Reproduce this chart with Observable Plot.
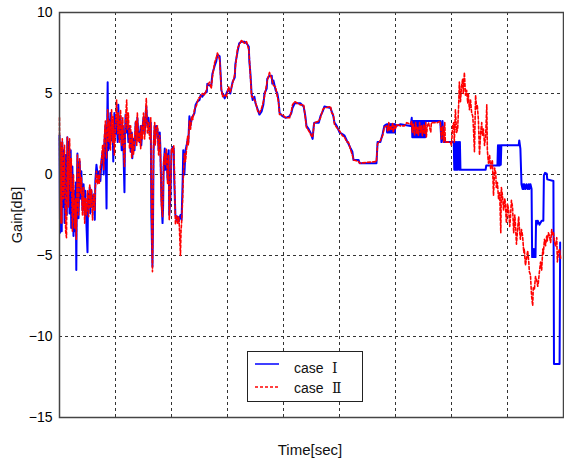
<!DOCTYPE html>
<html>
<head>
<meta charset="utf-8">
<script src="https://cdn.jsdelivr.net/npm/d3@7"></script>
<script src="https://cdn.jsdelivr.net/npm/@observablehq/plot@0.6"></script>
<style>
  html, body { margin: 0; padding: 0; background: #fff; }
  svg { display: block; }
</style>
</head>
<body>
<div id="chart"></div>
<script>
// ---- data (time in s, gain in dB) ----
const yTicks = [-15, -10, -5, 0, 5, 10];
const xGrid = [1, 2, 3, 4, 5, 6, 7, 8];
const yGrid = [-10, -5, 0, 5];
const legendLabels = ["case", "case"];
const legendNumerals = ["Ⅰ", "Ⅱ"];

// case I
const timeA = [
  0,0.01,0.02,0.04,0.05,0.07,0.08,0.09,0.11,0.13,0.14,0.15,0.16,0.18,0.2,0.21,0.23,0.25,0.26,0.27,
  0.29,0.3,0.31,0.32,0.34,0.36,0.38,0.39,0.41,0.43,0.45,0.46,0.48,0.5,0.51,0.52,0.54,0.55,0.57,0.59,
  0.61,0.63,0.64,0.66,0.68,0.7,0.71,0.73,0.75,0.77,0.79,0.8,0.82,0.84,0.85,0.86,0.87,0.88,0.89,0.91,
  0.93,0.95,0.96,0.98,1.0,
  1.02,1.04,1.05,1.07,1.09,1.11,1.13,1.14,1.16,1.17,1.18,1.2,1.21,1.23,1.25,1.27,1.29,1.3,1.32,1.34,
  1.36,1.38,1.39,1.41,1.43,1.45,1.46,1.48,1.5,1.52,1.54,1.55,1.57,1.59,1.61,1.63,1.64,1.66,1.67,1.68,
  1.7,1.71,1.73,1.75,1.77,1.79,1.8,1.82,1.84,1.85,1.86,1.88,1.89,1.91,1.93,1.95,1.96,1.98,2.0,2.02,
  2.04,2.05,2.07,2.09,2.11,2.13,2.14,2.16,2.18,2.2,2.21,2.23,2.25,
  2.27,2.29,2.3,2.32,2.34,2.36,2.38,2.41,2.43,2.46,2.5,2.52,2.55,2.59,2.63,2.64,2.68,2.71,2.73,2.77,
  2.8,2.82,2.86,2.88,2.89,2.91,2.95,2.98,3.02,3.05,3.09,3.13,3.14,3.18,3.21,3.25,3.3,3.34,3.38,3.39,
  3.41,3.43,3.45,3.48,3.5,3.54,3.57,3.61,3.64,3.66,3.7,3.71,3.75,3.79,3.8,3.82,3.86,3.89,3.91,3.93,
  3.98,4.04,4.11,4.14,4.16,4.2,4.3,4.36,4.39,4.41,4.45,4.48,4.52,4.54,4.55,4.63,4.66,4.7,4.73,4.84,
  4.86,4.89,4.91,4.95,5.0,5.05,5.09,5.13,5.16,5.2,5.23,5.25,5.34,5.36,5.66,5.68,5.73,5.77,5.8,5.84,
  5.85,5.855,5.86,5.865,5.87,5.875,5.88,5.885,5.89,5.895,5.9,5.905,5.91,5.915,5.92,5.925,5.93,5.935,5.94,5.945,
  5.95,5.955,5.96,5.965,5.97,5.975,5.98,5.985,5.99,5.995,
  6.02,6.09,6.27,6.29,
  6.3,6.305,6.31,6.315,6.32,6.325,6.33,6.335,6.34,6.345,6.35,6.355,6.36,6.365,6.37,6.375,6.38,6.385,6.39,6.395,
  6.4,6.405,6.41,6.415,6.42,6.425,6.43,6.435,6.44,6.445,6.45,6.455,6.46,6.465,6.47,6.475,6.48,6.485,6.49,6.495,
  6.5,6.505,6.51,6.515,6.52,6.525,6.53,6.535,
  6.54,6.8,6.82,6.84,6.86,7.04,7.05,7.06,7.07,7.08,7.09,7.1,7.11,7.13,
  7.14,7.15,7.16,7.61,7.62,7.82,7.83,7.84,7.85,7.86,7.87,7.88,7.89,8.2,8.21,8.23,8.25,8.27,8.28,8.29,
  8.3,8.32,8.34,8.36,8.38,8.39,8.41,8.43,8.44,8.45,8.46,8.47,8.48,8.49,8.5,8.51,8.52,8.54,8.57,8.61,
  8.64,8.65,8.67,8.7,8.71,8.82,8.83,8.93,8.94
];
const gainA = [
  2.4,-3.6,1.8,-3.5,2.0,-2.0,1.5,-3.0,1.2,-2.5,2.3,-1.0,2.0,-2.4,1.5,-3.3,0.5,-3.8,-1.0,-3.5,
  -0.5,-5.9,-1.0,1.3,-2.7,0.8,-1.5,0.2,-2.2,-0.6,-2.5,-1.0,-3.0,-4.8,-1.2,-2.0,-0.8,-2.4,-1.0,-2.0,
  -1.3,-2.8,-0.4,0.6,0.0,-0.3,0.2,-0.4,0.9,1.4,0.0,1.8,3.0,-2.1,2.5,5.7,1.5,3.4,1.6,3.8,
  2.1,3.0,0.8,3.8,2.5,
  3.5,2.0,4.3,2.2,3.6,1.5,3.0,1.8,-1.1,2.5,3.7,2.6,3.5,2.0,3.0,1.4,2.6,1.0,2.2,1.5,
  3.2,2.2,3.5,2.4,2.0,3.0,1.8,2.8,3.5,2.5,3.8,4.2,3.0,3.5,2.5,3.2,-2.5,-5.7,-3.0,1.5,
  3.0,2.2,3.0,2.8,1.5,2.6,1.8,-1.5,-3.0,-2.0,0.5,1.6,0.3,1.3,-0.3,1.5,-2.5,-1.5,1.5,1.7,
  1.6,-0.5,-2.5,-2.8,-2.6,-2.9,-2.7,-2.5,-2.8,-0.3,1.5,0.0,1.5,
  1.8,2.2,2.0,3.6,3.0,3.4,3.6,3.8,4.3,4.5,4.6,4.9,4.8,5.0,5.1,5.6,5.5,5.5,6.2,6.7,
  7.0,7.4,7.3,6.0,5.2,5.0,4.7,5.0,5.3,5.0,5.7,6.0,6.8,7.6,8.1,8.2,8.2,8.1,7.9,7.0,
  6.2,5.0,4.6,4.8,4.4,4.0,3.7,3.9,4.3,5.0,5.3,5.9,6.1,6.1,5.6,5.8,5.2,5.0,4.6,3.8,
  3.6,3.5,3.6,3.8,4.1,4.4,4.4,4.2,3.6,3.0,2.8,2.6,2.2,3.0,3.2,3.2,3.6,3.9,4.2,4.1,
  3.9,3.6,3.2,3.0,2.6,2.5,2.4,2.1,1.9,1.6,1.4,0.9,0.9,0.7,0.7,2.0,2.0,2.5,3.0,3.1,
  2.6,3.1,2.6,3.1,2.6,3.1,2.6,3.1,2.6,3.1,2.6,3.1,2.6,3.1,2.6,3.1,2.6,3.1,2.6,3.1,
  2.6,3.1,2.6,3.1,2.6,3.1,2.6,3.1,2.6,3.1,
  3.0,3.1,3.0,3.5,
  2.3,3.3,2.3,3.3,2.3,3.3,2.3,3.3,2.3,3.3,2.3,3.3,2.3,3.3,2.3,3.3,2.3,3.3,2.3,3.3,
  2.3,3.3,2.3,3.3,2.3,3.3,2.3,3.3,2.3,3.3,2.3,3.3,2.3,3.3,2.3,3.3,2.3,3.3,2.3,3.3,
  2.3,3.3,2.3,3.3,2.3,3.3,2.3,3.3,
  3.3,3.3,2.0,3.3,2.0,2.0,0.3,2.0,0.3,2.0,0.3,2.0,0.3,2.0,
  0.3,2.0,0.3,0.3,0.55,0.55,1.8,0.55,1.8,0.55,1.8,0.6,1.8,1.8,2.1,1.6,-0.6,-0.9,-0.6,-0.9,
  -0.6,-0.9,-0.6,-0.9,-0.6,-0.9,-0.6,-0.9,-5.1,-4.6,-5.1,-4.6,-5.1,-4.6,-5.1,-2.85,-3.1,-2.85,-3.1,-2.85,
  -2.85,-0.05,0.1,0.05,-0.3,-0.4,-11.7,-11.7,-4.2
];

// case II
const timeB = [
  0,0.01,0.02,0.04,0.05,0.07,0.09,0.11,0.125,0.135,0.14,0.16,0.18,0.2,0.21,0.23,0.25,0.27,0.29,0.3,
  0.32,0.34,0.36,0.38,0.39,0.41,0.43,0.45,0.46,0.48,0.5,0.52,0.54,0.55,0.57,0.59,0.61,0.63,0.64,0.66,
  0.68,0.7,0.71,0.73,0.75,0.77,0.79,0.8,0.82,0.84,0.86,0.88,0.89,0.91,0.93,0.95,0.96,0.98,1.0,
  1.02,1.04,1.05,1.07,1.09,1.11,1.13,1.14,1.16,1.18,1.2,1.21,1.23,1.25,1.27,1.29,1.3,1.32,1.34,1.36,
  1.38,1.39,1.41,1.43,1.45,1.46,1.48,1.5,1.52,1.54,1.55,1.57,1.59,1.61,1.63,1.64,1.66,1.67,1.68,1.7,
  1.71,1.73,1.75,1.77,1.79,1.8,1.82,1.84,1.86,1.88,1.89,1.91,1.93,1.95,1.96,1.98,2.0,2.02,2.04,2.05,
  2.07,2.09,2.11,2.13,2.14,2.16,2.17,2.18,2.2,2.21,2.23,2.25,2.27,2.29,2.3,2.32,2.34,2.36,2.38,2.41,
  2.45,2.48,2.52,2.55,2.59,2.63,2.64,2.68,2.71,2.73,2.77,2.8,2.82,2.86,2.88,2.89,2.91,2.95,2.98,3.02,
  3.05,3.09,3.13,3.14,3.18,3.21,3.25,3.3,3.34,3.38,3.39,3.41,3.43,3.45,3.48,3.5,3.54,3.57,3.61,3.64,
  3.66,3.7,3.71,3.75,3.79,3.8,3.82,3.86,3.89,3.91,3.93,3.98,4.04,4.11,4.14,4.16,4.2,4.3,4.36,4.39,
  4.41,4.45,4.48,4.52,4.54,4.55,4.63,4.66,4.7,4.73,4.84,4.86,4.89,4.91,4.95,5.0,5.05,5.09,5.13,5.16,
  5.2,5.23,5.25,5.34,5.36,5.66,5.68,5.73,5.77,5.8,5.84,5.86,5.88,5.89,5.91,5.93,5.95,5.96,5.98,6.0,
  6.02,6.09,6.16,6.2,6.27,6.29,6.3,6.32,6.34,6.36,6.38,6.39,6.41,6.43,6.45,6.46,6.48,6.5,6.52,6.54,
  6.55,6.57,6.59,6.63,6.64,6.75,6.8,6.82,6.84,6.86,6.88,6.89,6.98,7.0,7.02,7.04,7.05,7.07,7.09,7.11,
  7.13,7.14,7.16,7.18,7.2,7.21,7.23,7.25,7.27,7.29,7.3,7.32,7.34,7.36,7.38,7.39,7.41,7.43,7.45,7.46,
  7.48,7.5,7.52,7.54,7.55,7.57,7.59,7.61,7.63,7.64,7.66,7.68,7.7,7.71,7.73,7.75,7.77,7.79,7.8,7.82,
  7.84,7.86,7.88,7.89,7.91,7.93,7.95,7.96,7.98,8.0,8.02,8.04,8.05,8.07,8.09,8.11,8.13,8.14,8.16,8.18,
  8.2,8.21,8.23,8.25,8.27,8.29,8.3,8.32,8.34,8.36,8.38,8.39,8.41,8.43,8.45,8.46,8.48,8.5,8.52,8.54,
  8.55,8.57,8.59,8.61,8.63,8.64,8.66,8.68,8.7,8.71,8.73,8.75,8.77,8.79,8.8,8.82,8.84,8.86,8.88,8.89,
  8.91,8.93,8.95
];
const gainB = [
  3.5,-3.0,2.0,-3.0,2.2,-1.5,1.8,-3.5,-3.9,0.5,2.3,-2.0,2.2,-1.0,1.0,-3.5,0.0,-3.3,-1.5,-4.0,
  1.2,-2.5,1.0,-1.2,-0.2,-2.5,-0.8,-3.0,-1.5,-2.5,-1.0,-2.6,-0.6,-2.0,-0.9,-2.8,-1.2,-2.2,-0.8,0.2,
  -0.6,0.0,-0.6,0.5,0.8,1.8,0.3,2.2,3.3,1.0,4.0,2.0,3.3,1.5,4.0,2.0,3.6,1.2,3.0,
  4.6,2.5,3.8,2.0,4.0,1.8,3.5,2.0,0.5,3.5,4.6,2.8,3.8,1.6,3.0,1.0,2.5,1.2,2.0,3.3,
  1.8,3.8,2.0,2.6,1.6,3.0,2.2,3.8,2.2,4.0,4.7,2.5,3.2,2.2,3.5,-1.0,-6.0,-2.0,2.0,3.2,
  1.8,2.8,3.0,1.2,2.4,1.5,-1.8,-2.6,0.8,1.3,0.6,1.6,-0.6,1.2,-2.8,-1.0,1.6,1.4,1.8,0.5,
  -3.1,-2.5,-3.0,-2.6,-3.2,-5.0,-3.5,-3.0,-1.5,-0.3,1.3,0.8,1.6,2.4,1.8,3.3,2.8,3.6,3.4,4.0,
  4.3,4.7,4.8,5.0,4.9,5.3,5.5,5.7,5.3,6.0,6.9,7.2,7.5,7.1,5.8,5.3,4.8,4.9,4.8,5.4,
  5.1,5.6,6.2,6.6,7.8,8.0,8.3,8.1,8.2,7.7,7.2,6.0,4.8,4.8,4.6,4.5,3.9,3.8,4.1,4.5,
  4.8,5.6,5.8,6.3,5.9,5.8,5.5,5.4,4.8,4.5,3.7,3.7,3.5,3.5,3.9,4.3,4.5,4.3,4.3,3.5,
  2.9,2.7,2.5,2.3,2.9,3.2,3.3,3.5,4.0,4.1,4.2,3.8,3.7,3.1,2.9,2.7,2.4,2.3,2.0,2.0,
  1.5,1.2,0.9,0.8,0.7,0.8,1.9,2.1,2.4,2.9,3.0,2.7,3.2,2.7,3.0,2.8,3.2,2.6,3.0,2.8,
  3.1,3.0,3.0,3.2,3.1,3.3,2.6,3.1,2.4,3.2,2.5,2.9,2.4,3.2,2.6,3.0,2.4,3.1,2.5,3.2,
  2.3,3.0,3.2,2.6,3.2,3.2,3.3,2.2,3.0,2.0,3.2,2.0,2.0,1.8,3.0,3.2,2.0,4.0,2.6,2.8,
  4.5,5.7,4.5,5.5,5.9,5.0,6.3,4.9,5.2,4.4,5.0,4.0,4.6,3.8,3.6,3.0,1.4,4.9,4.0,4.3,
  3.4,1.2,2.6,3.2,2.4,2.8,1.8,2.4,4.3,1.5,0.7,1.2,0.3,0.6,0.9,-1.3,0.4,0.1,-0.8,-0.5,
  -1.5,-1.1,-3.6,-0.8,-1.3,-2.2,-1.5,-1.7,-3.0,-1.8,-2.2,-3.2,-2.8,-1.6,-2.0,-3.6,-2.5,-3.0,-4.3,-3.4,
  -2.6,-3.2,-4.0,-3.4,-3.8,-4.8,-4.6,-5.6,-5.2,-4.7,-5.4,-6.0,-6.2,-7.5,-8.1,-7.0,-7.1,-6.3,-6.5,-6.9,
  -6.7,-6.0,-5.4,-5.9,-4.6,-4.9,-4.0,-4.4,-3.8,-4.1,-3.6,-3.8,-4.2,-3.4,-3.7,-3.6,-4.2,-4.4,-3.9,-5.4,
  -4.8,-4.6,-5.2
];

const seriesA = timeA.map((t, i) => ({time: t, gain: gainA[i]}));
const seriesB = timeB.map((t, i) => ({time: t, gain: gainB[i]}));

const W = 564, H = 466;
const font = "'Liberation Sans', Arial, sans-serif";

const chart = Plot.plot({
  width: W,
  height: H,
  marginTop: 12,
  marginBottom: 49,
  marginLeft: 59,
  marginRight: 1,
  style: {fontFamily: font, fontSize: "14px", background: "#fff", color: "#000"},
  x: {domain: [0, 9]},
  y: {domain: [-15, 10]},
  marks: [
    Plot.ruleX(xGrid, {stroke: "#333", strokeWidth: 1, strokeDasharray: "3,3"}),
    Plot.ruleY(yGrid, {stroke: "#333", strokeWidth: 1, strokeDasharray: "3,3"}),
    Plot.line(seriesA, {x: "time", y: "gain", stroke: "#0000ff", strokeWidth: 2, curve: "linear"}),
    Plot.line(seriesB, {x: "time", y: "gain", stroke: "#ff0000", strokeWidth: 1.6, strokeDasharray: "3,2", curve: "linear"}),
    Plot.frame({stroke: "#444", strokeWidth: 1.5}),
    Plot.axisY(yTicks, {tickSize: 0, tickPadding: 7, label: null, fontSize: 14}),
    Plot.axisX([], {label: null})
  ]
});

document.getElementById("chart").appendChild(chart);

// axis titles and legend (layout only)
const svg = d3.select(chart);
svg.append("text")
  .attr("transform", "translate(22,215) rotate(-90)")
  .attr("text-anchor", "middle")
  .attr("font-family", font).attr("font-size", 14.5).attr("fill", "#111")
  .text("Gain[dB]");
svg.append("text")
  .attr("x", 310).attr("y", 455)
  .attr("text-anchor", "middle")
  .attr("font-family", font).attr("font-size", 15).attr("fill", "#111")
  .text("Time[sec]");

const lg = svg.append("g").attr("text-anchor", "start");
lg.append("rect").attr("x", 247.5).attr("y", 351.5).attr("width", 115).attr("height", 50)
  .attr("fill", "#fff").attr("stroke", "#222").attr("stroke-width", 1);
const rows = [
  {color: "#0000ff", dash: null, y: 364, base: 373},
  {color: "#ff0000", dash: "3,2", y: 387, base: 393}
];
rows.forEach((r, i) => {
  lg.append("line").attr("x1", 255).attr("x2", 279).attr("y1", r.y).attr("y2", r.y)
    .attr("stroke", r.color).attr("stroke-width", 1.5).attr("stroke-dasharray", r.dash);
  lg.append("text").attr("x", 294).attr("y", r.base).attr("text-anchor", "start")
    .attr("font-family", font).attr("font-size", 14).attr("fill", "#111")
    .text(legendLabels[i]);
  lg.append("text").attr("x", 332).attr("y", r.base).attr("text-anchor", "start")
    .attr("font-family", "'DejaVu Serif', 'Noto Sans CJK SC', serif").attr("font-size", 14).attr("fill", "#111")
    .text(legendNumerals[i]);
});
</script>
</body>
</html>
